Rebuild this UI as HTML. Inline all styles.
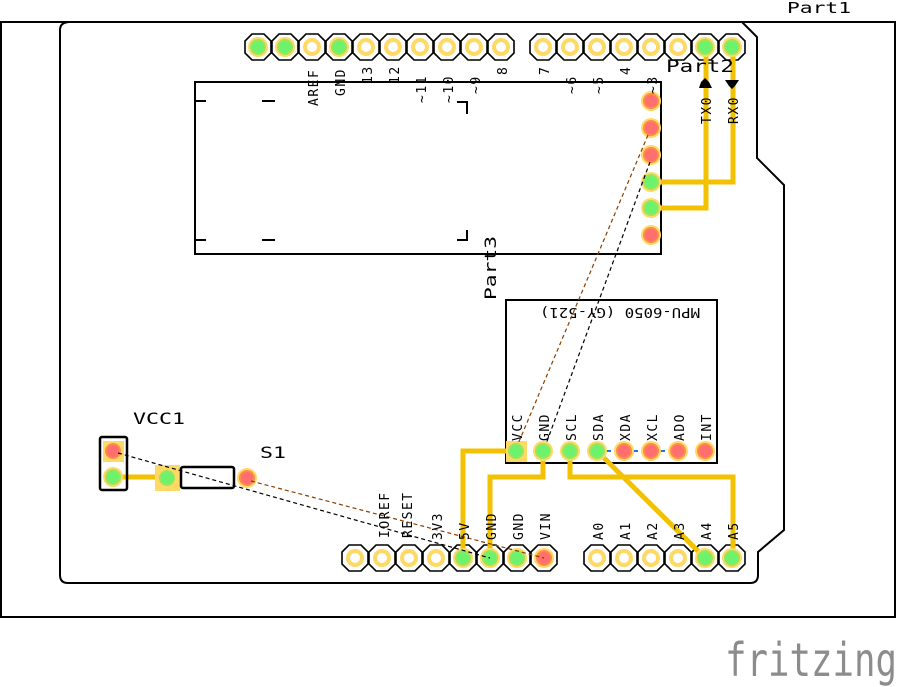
<!DOCTYPE html>
<html><head><meta charset="utf-8"><style>
html,body{margin:0;padding:0;background:#fff;}
svg{display:block;}
text{font-family:"DejaVu Sans Mono","Liberation Mono",monospace;fill:#000;}
</style></head><body>
<svg width="900" height="687" viewBox="0 0 900 687" xmlns="http://www.w3.org/2000/svg">
<defs>
<g id="oct"><polygon points="-6,-13 6,-13 13,-6 13,6 6,13 -6,13 -13,6 -13,-6" fill="#fff" stroke="#000" stroke-width="1.6"/></g>
<g id="py"><circle r="9" fill="#ffd966"/><circle r="5" fill="#fff"/></g>
<g id="pg"><circle r="10" fill="#ffd966"/><circle r="8" fill="#9be55a"/><circle r="6" fill="#6df26d"/></g>
<g id="pr"><circle r="10" fill="#ffd966"/><circle r="8" fill="#ff8a4a"/><circle r="6" fill="#ff6f6f"/></g>
</defs>
<rect x="1" y="22" width="894" height="595" fill="#fff" stroke="#000" stroke-width="2"/>
<path d="M70,22 L742,22 L757,37 L757,158 L784,185 L784,530 L758,552 L758,575 Q758,583 750,583 L68,583 Q60,583 60,575 L60,30 Q60,22 70,22 Z" fill="none" stroke="#000" stroke-width="2"/>
<text x="787" y="13" font-size="15" textLength="64" lengthAdjust="spacingAndGlyphs">Part1</text>

<rect x="195" y="82" width="466" height="172" fill="none" stroke="#000" stroke-width="2"/>
<g stroke="#000" stroke-width="2" fill="none">
<path d="M196,101 H206 M262,101 H275 M457,102 H467 V114 M196,240 H206 M262,240 H275 M457,240 H467 V230"/>
</g>
<text transform="translate(496,300) rotate(-90)" font-size="16" textLength="64" lengthAdjust="spacingAndGlyphs">Part3</text>

<rect x="506" y="300" width="211" height="163" fill="none" stroke="#000" stroke-width="2"/>
<text transform="translate(620,308) rotate(180)" font-size="13" text-anchor="middle" textLength="160" lengthAdjust="spacingAndGlyphs">MPU-6050 (GY-521)</text>

<g>
<use href="#oct" x="258" y="47"/><use href="#oct" x="285" y="47"/><use href="#oct" x="312" y="47"/><use href="#oct" x="339" y="47"/><use href="#oct" x="366" y="47"/><use href="#oct" x="393" y="47"/><use href="#oct" x="420" y="47"/><use href="#oct" x="447" y="47"/><use href="#oct" x="474" y="47"/><use href="#oct" x="501" y="47"/>
<use href="#oct" x="543" y="47"/><use href="#oct" x="570" y="47"/><use href="#oct" x="597" y="47"/><use href="#oct" x="624" y="47"/><use href="#oct" x="651" y="47"/><use href="#oct" x="678" y="47"/><use href="#oct" x="705" y="47"/><use href="#oct" x="732" y="47"/>
</g>
<g>
<use href="#oct" x="355" y="558"/><use href="#oct" x="382" y="558"/><use href="#oct" x="409" y="558"/><use href="#oct" x="436" y="558"/><use href="#oct" x="463" y="558"/><use href="#oct" x="490" y="558"/><use href="#oct" x="517" y="558"/><use href="#oct" x="544" y="558"/>
<use href="#oct" x="597" y="558"/><use href="#oct" x="624" y="558"/><use href="#oct" x="651" y="558"/><use href="#oct" x="678" y="558"/><use href="#oct" x="705" y="558"/><use href="#oct" x="732" y="558"/>
</g>

<g stroke="#f2c200" stroke-width="5" fill="none">
<path d="M516,451 H463 V558"/>
<path d="M543,451 V477 H490 V558"/>
<path d="M570,451 V477 H733 V558"/>
<path d="M597,451 L705,558"/>
<path d="M651,182 H733 V47"/>
<path d="M651,208 H706 V47"/>
<path d="M113,477 H167"/>
</g>
<rect x="506" y="441" width="21" height="21" fill="#ffd966"/>

<use href="#pg" x="258" y="47"/><use href="#pg" x="285" y="47"/><use href="#py" x="312" y="47"/><use href="#pg" x="339" y="47"/><use href="#py" x="366" y="47"/><use href="#py" x="393" y="47"/><use href="#py" x="420" y="47"/><use href="#py" x="447" y="47"/><use href="#py" x="474" y="47"/><use href="#py" x="501" y="47"/>
<use href="#py" x="543" y="47"/><use href="#py" x="570" y="47"/><use href="#py" x="597" y="47"/><use href="#py" x="624" y="47"/><use href="#py" x="651" y="47"/><use href="#py" x="678" y="47"/><use href="#pg" x="705" y="47"/><use href="#pg" x="732" y="47"/>
<use href="#py" x="355" y="558"/><use href="#py" x="382" y="558"/><use href="#py" x="409" y="558"/><use href="#py" x="436" y="558"/><use href="#pg" x="463" y="558"/><use href="#pg" x="490" y="558"/><use href="#pg" x="517" y="558"/><use href="#pr" x="544" y="558"/>
<use href="#py" x="597" y="558"/><use href="#py" x="624" y="558"/><use href="#py" x="651" y="558"/><use href="#py" x="678" y="558"/><use href="#pg" x="705" y="558"/><use href="#pg" x="732" y="558"/>
<use href="#pr" x="651" y="101"/><use href="#pr" x="651" y="128"/><use href="#pr" x="651" y="155"/><use href="#pg" x="651" y="182"/><use href="#pg" x="651" y="208"/><use href="#pr" x="651" y="235"/>
<line x1="597" y1="451" x2="678" y2="451" stroke="#1a7ae0" stroke-width="2" stroke-dasharray="5,4"/>
<use href="#pg" x="516" y="451"/><use href="#pg" x="543" y="451"/><use href="#pg" x="570" y="451"/><use href="#pg" x="597" y="451"/><use href="#pr" x="624" y="451"/><use href="#pr" x="651" y="451"/><use href="#pr" x="678" y="451"/><use href="#pr" x="705" y="451"/>

<rect x="100" y="437" width="27" height="53" fill="none" stroke="#000" stroke-width="2.5" rx="2"/>
<rect x="103" y="441" width="21" height="21" fill="#ffd966"/>
<use href="#pr" x="113" y="451"/><use href="#pg" x="113" y="477"/>
<text x="133" y="424" font-size="16" textLength="52" lengthAdjust="spacingAndGlyphs">VCC1</text>
<rect x="155" y="465" width="25" height="26" fill="#ffd966"/>
<use href="#pg" x="167" y="478"/>
<rect x="181" y="467" width="53" height="21" fill="#fff" stroke="#000" stroke-width="2.5" rx="2"/>
<use href="#pr" x="247" y="478"/>
<text x="260" y="458" font-size="16" textLength="26" lengthAdjust="spacingAndGlyphs">S1</text>

<g fill="none" stroke-width="1.2" stroke-dasharray="4,3">
<line x1="648" y1="135" x2="518" y2="444" stroke="#8b4000"/>
<line x1="650" y1="162" x2="546" y2="444" stroke="#000"/>
<line x1="251" y1="481" x2="544" y2="558" stroke="#8b4000"/>
<line x1="118" y1="453" x2="490" y2="558" stroke="#000"/>
</g>

<g font-size="13" style="letter-spacing:1.5px">
<text transform="translate(318,106) rotate(-90)">AREF</text>
<text transform="translate(345,96) rotate(-90)">GND</text>
<text transform="translate(372,84) rotate(-90)">13</text>
<text transform="translate(399,84) rotate(-90)">12</text>
<text transform="translate(426,103) rotate(-90)">~11</text>
<text transform="translate(453,103) rotate(-90)">~10</text>
<text transform="translate(480,94) rotate(-90)">~9</text>
<text transform="translate(507,75) rotate(-90)">8</text>
<text transform="translate(549,75) rotate(-90)">7</text>
<text transform="translate(576,94) rotate(-90)">~6</text>
<text transform="translate(603,94) rotate(-90)">~5</text>
<text transform="translate(630,75) rotate(-90)">4</text>
<text transform="translate(657,94) rotate(-90)">~3</text>
<text transform="translate(711,124) rotate(-90)">TX0</text>
<text transform="translate(738,124) rotate(-90)">RX0</text>
</g>
<path d="M699,88 L712,88 L709,82 L705,78 L701,82 Z M725,80 L739,80 L735,86 L732,89 L729,86 Z" fill="#000"/>
<text x="666" y="72" font-size="17" textLength="68" lengthAdjust="spacingAndGlyphs">Part2</text>

<g font-size="13" style="letter-spacing:1.5px">
<text transform="translate(522,441) rotate(-90)">VCC</text>
<text transform="translate(549,441) rotate(-90)">GND</text>
<text transform="translate(576,441) rotate(-90)">SCL</text>
<text transform="translate(603,441) rotate(-90)">SDA</text>
<text transform="translate(630,441) rotate(-90)">XDA</text>
<text transform="translate(657,441) rotate(-90)">XCL</text>
<text transform="translate(684,441) rotate(-90)">ADO</text>
<text transform="translate(711,441) rotate(-90)">INT</text>
</g>
<g font-size="13" style="letter-spacing:1.5px">
<text transform="translate(389,538) rotate(-90)">IOREF</text>
<text transform="translate(412,538) rotate(-90)">RESET</text>
<text transform="translate(442,540) rotate(-90)">3V3</text>
<text transform="translate(469,540) rotate(-90)">5V</text>
<text transform="translate(496,540) rotate(-90)">GND</text>
<text transform="translate(523,540) rotate(-90)">GND</text>
<text transform="translate(550,540) rotate(-90)">VIN</text>
<text transform="translate(603,540) rotate(-90)">A0</text>
<text transform="translate(630,540) rotate(-90)">A1</text>
<text transform="translate(657,540) rotate(-90)">A2</text>
<text transform="translate(684,540) rotate(-90)">A3</text>
<text transform="translate(711,540) rotate(-90)">A4</text>
<text transform="translate(738,540) rotate(-90)">A5</text>
</g>

<text x="725" y="676" font-family="'DejaVu Sans','Liberation Sans',sans-serif" font-size="46" textLength="172" lengthAdjust="spacingAndGlyphs" style="fill:#8c8c8c">fritzing</text>
</svg>
</body></html>
